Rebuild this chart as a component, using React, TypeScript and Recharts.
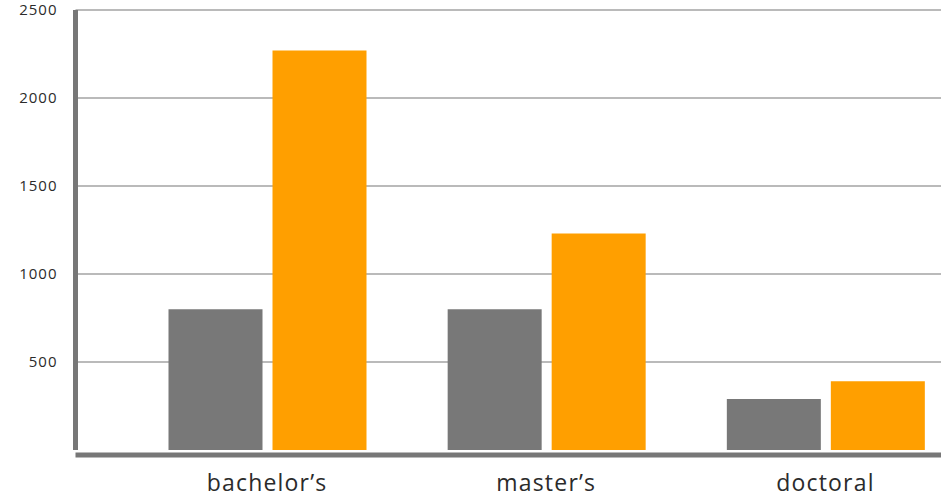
import { BarChart, Bar, XAxis, YAxis, CartesianGrid } from 'recharts';

const DEGREES = ['bachelor’s', 'master’s', 'doctoral'];
const GRAY_VALUES = [800, 800, 290];
const ORANGE_VALUES = [2270, 1230, 390];
const Y_TICKS = [500, 1000, 1500, 2000, 2500];

const data = DEGREES.map((degree, i) => ({
  degree,
  gray: GRAY_VALUES[i],
  orange: ORANGE_VALUES[i],
}));

const FONT = '"Open Sans", sans-serif';

export default function App() {
  return (
    <div
      style={{
        position: 'absolute',
        left: 0,
        top: 0,
        width: 950,
        height: 498,
        background: '#fff',
      }}
    >
      <BarChart
        width={950}
        height={498}
        data={data}
        margin={{ top: 10, right: 9, bottom: 0, left: 0 }}
        barSize={94}
        barGap={10}
      >
        <CartesianGrid
          vertical={false}
          horizontalValues={Y_TICKS}
          stroke="#a3a3a3"
          strokeWidth={1.5}
        />
        <XAxis
          dataKey="degree"
          height={48}
          padding={{ left: 52, right: -24 }}
          axisLine={{
            stroke: '#777',
            strokeWidth: 5,
            transform: 'translate(0,5)',
          }}
          tickLine={false}
          tickSize={0}
          tickMargin={25}
          tick={{
            fontSize: 23,
            fill: '#2b2b2b',
            fontFamily: FONT,
            letterSpacing: 1.2,
          }}
        />
        <YAxis
          width={75.5}
          domain={[0, 2500]}
          ticks={Y_TICKS}
          axisLine={{ stroke: '#777', strokeWidth: 5 }}
          tickLine={false}
          tickSize={0}
          tickMargin={18}
          tick={{
            fontSize: 15,
            fill: '#2b2b2b',
            fontFamily: FONT,
            letterSpacing: 1,
          }}
        />
        <Bar dataKey="gray" fill="#787878" isAnimationActive={false} />
        <Bar dataKey="orange" fill="#FF9F00" isAnimationActive={false} />
      </BarChart>
    </div>
  );
}
